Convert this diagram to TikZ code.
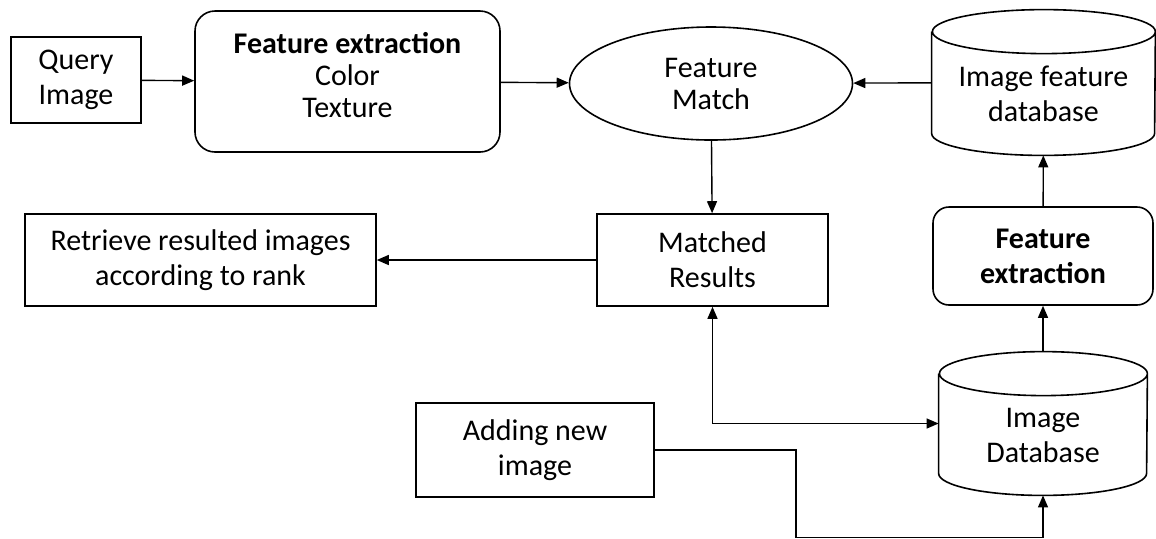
\documentclass[tikz,border=0pt]{standalone}
\usepackage{fontspec}
\setmainfont{Carlito}
\usepackage{tikz}
\usetikzlibrary{shapes.geometric}
\usetikzlibrary{arrows.meta}
\usetikzlibrary{calc}

\begin{document}
\begin{tikzpicture}[x=0.5pt, y=-0.5pt,
    every node/.style={align=center, inner sep=0pt, font=\fontsize{15}{17.5}\selectfont},
    box/.style={draw, line width=0.8pt},
    rbox/.style={draw, line width=0.8pt, rounded corners=10pt},
    tight/.style={font=\fontsize{15}{16}\selectfont},
    line/.style={line width=0.8pt},
    arr/.style={-{Triangle[length=6pt, width=5pt]}, line width=0.7pt}]
          \useasboundingbox (0, 0) rectangle (1156, 538);

          \node[box, minimum width=65pt, minimum height=43pt] (query) at (76, 80) {Query\\Image};

          \node[rbox, minimum width=152.5pt, minimum height=70.5pt] (fe1) at (347.5, 81.5) {};
          \node[tight] (fe1text) at (347.5, 75) {\textbf{Feature extraction}\\Color\\Texture};

          \node[draw, ellipse, tight, line width=0.8pt, minimum width=141.5pt, minimum height=56.5pt] (match) at (711, 83.5) {Feature\\Match};

          % database cylinders
          \node[minimum width=111.5pt, minimum height=72.5pt] (featdb) at (1043.5, 82.5) {};
          \draw[line] ([yshift=-11pt]featdb.north west) -- ([yshift=11pt]featdb.south west)
                arc[start angle=180, end angle=360, x radius=55.75pt, y radius=11pt]
                -- ([yshift=-11pt]featdb.north east)
                arc[start angle=0, end angle=180, x radius=55.75pt, y radius=11pt]
                arc[start angle=180, end angle=360, x radius=55.75pt, y radius=11pt];
          \node (featdbtext) at (1043.5, 93.5) {Image feature\\database};

          \node[minimum width=104pt, minimum height=71.5pt] (imgdb) at (1043, 423.5) {};
          \draw[line] ([yshift=-11pt]imgdb.north west) -- ([yshift=11pt]imgdb.south west)
                arc[start angle=180, end angle=360, x radius=52pt, y radius=11pt]
                -- ([yshift=-11pt]imgdb.north east)
                arc[start angle=0, end angle=180, x radius=52pt, y radius=11pt]
                arc[start angle=180, end angle=360, x radius=52pt, y radius=11pt];
          \node (imgdbtext) at (1043, 435) {Image\\Database};

          \node[box, minimum width=115.5pt, minimum height=46pt] (matched) at (712.5, 260) {Matched\\Results};

          \node[box, minimum width=175.5pt, minimum height=46pt] (retrieve) at (200.5, 260) {Retrieve resulted images\\according to rank};

          \node[rbox, rounded corners=8pt, minimum width=110pt, minimum height=49pt] (fe2) at (1043, 256) {\textbf{Feature}\\\textbf{extraction}};

          \node[box, minimum width=119pt, minimum height=47pt] (adding) at (535, 450) {Adding new\\image};

          \draw[arr] (query) -- (fe1);
          \draw[arr] (fe1) -- (match);
          \draw[arr] (featdb) -- (match);
          \draw[arr] (match) -- (matched);
          \draw[arr] (matched) -- (retrieve);
          \draw[arr] (fe2) -- (featdb);
          \draw[arr] (imgdb) -- (fe2);
          \draw[arr, {Triangle[length=6pt, width=5pt]}-{Triangle[length=6pt, width=5pt]}] (matched.south) |- (imgdb.west);
          \draw[arr] (adding.east) -- ++(70.5pt, 0) |- ([yshift=-21pt]imgdb.south) -- (imgdb.south);
        \end{tikzpicture}
\end{document}
